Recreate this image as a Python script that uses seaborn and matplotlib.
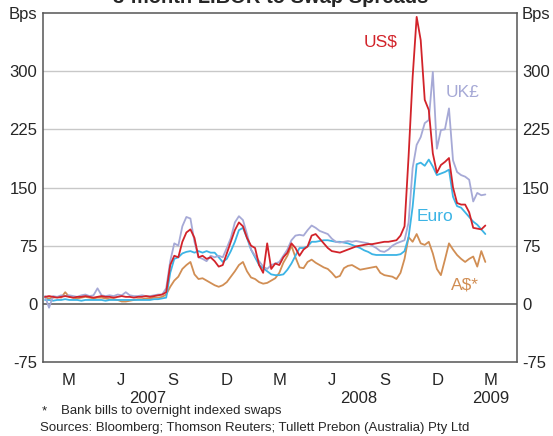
import pandas as pd
import numpy as np
import matplotlib
matplotlib.use("Agg")
import matplotlib.pyplot as plt
import matplotlib.transforms as mtransforms
import seaborn as sns

# weekly readings (Fridays), Jan 2007 - Feb 2009, basis points
us = [9, 10, 9, 8, 9, 10, 9, 8, 9, 9, 10, 9, 8, 9, 10, 9, 9, 8, 9, 10,
      9, 9, 8, 9, 9, 10, 9, 10, 11, 12,
      15, 50, 62, 60, 80, 92, 96, 85, 60, 62, 58, 60, 55, 48, 50, 65, 80, 95, 105, 100,
      85, 75,
      72, 50, 40, 78, 45, 52, 50, 60, 66, 78, 72, 62, 70, 74, 88, 90, 84, 78, 72, 68,
      67, 66, 68, 70, 72, 74, 75, 76, 77, 77, 78, 79, 80, 80, 81, 82, 88,
      100, 190, 292, 370, 340, 263, 250, 194, 169, 179, 183, 188, 150, 130, 128, 128,
      118, 98, 97, 96, 101]
uk = [10, -5, 10, 9, 11, 10, 11, 10, 9, 11, 12, 10, 11, 20, 11, 10, 11, 10, 12, 11,
      15, 11, 10, 10, 11, 10, 10, 11, 12, 12,
      20, 55, 78, 75, 100, 112, 110, 80, 60, 58, 55, 62, 60, 62, 60, 72, 85, 105, 113, 108,
      90, 70,
      62, 55, 48, 45, 50, 52, 54, 62, 70, 82, 88, 89, 88, 95, 101, 98, 94, 92, 90, 84,
      80, 79, 80, 81, 80, 81, 80, 79, 78, 75, 72, 68, 67, 70, 75, 78, 80,
      82, 105, 175, 205, 215, 233, 237, 299, 200, 224, 225, 252, 185, 170, 166, 164,
      160, 132, 143, 140, 141]
euro = [5, 5, 4, 5, 5, 6, 5, 5, 5, 4, 5, 5, 5, 5, 5, 4, 5, 5, 5, 5,
        5, 5, 5, 5, 5, 5, 5, 6, 6, 7,
        8, 40, 58, 60, 65, 67, 68, 66, 68, 66, 68, 66, 66, 60, 54, 58, 68, 80, 95, 98,
        85, 70,
        60, 50, 46, 42, 38, 37, 37, 38, 44, 52, 62, 72, 72, 74, 80, 80, 81, 82, 82, 81,
        80, 80, 79, 78, 76, 74, 72, 69, 67, 64, 63, 63, 63, 63, 63, 63, 64,
        68, 86, 125, 180, 182, 178, 186, 177, 166, 168, 170, 173, 138, 126, 124, 118,
        112, 106, 102, 96, 90]
aud = [8, 7, 8, 9, 8, 15, 9, 8, 7, 8, 9, 8, 7, 8, 8, 7, 6, 6, 5, 3,
       3, 4, 5, 6, 6, 7, 7, 8, 8, 9,
       12, 22, 30, 35, 45, 50, 54, 38, 32, 33, 30, 27, 24, 22, 24, 28, 35, 42, 50, 54,
       42, 34,
       32, 28, 26, 27, 30, 33, 40, 53, 62, 75, 60, 47, 46, 54, 57, 53, 50, 47, 45, 40,
       34, 36, 46, 49, 50, 47, 44, 45, 46, 47, 48, 40, 37, 36, 35, 32, 40,
       58, 86, 80, 90, 78, 76, 80, 65, 45, 37, 57, 78, 70, 63, 58, 54, 58, 61, 48, 68,
       54]

dates = pd.date_range("2007-01-05", periods=len(us), freq="7D")

series_names = ["A$*", "Euro", "UK£", "US$"]
PALETTE = {"US$": "#d2232a", "UK£": "#a6a9d6", "Euro": "#3cb4e5", "A$*": "#d18e54"}

month_letters = ["M", "J", "S", "D", "M", "J", "S", "D", "M"]
years = ["2007", "2008", "2009"]

df = pd.concat([
    pd.DataFrame({"date": dates, "spread": vals, "series": name})
    for name, vals in zip(["US$", "UK£", "Euro", "A$*"], [us, uk, euro, aud])
])

sns.set_style("white")
plt.rcParams["font.family"] = ["Liberation Sans", "DejaVu Sans"]

fig = plt.figure(figsize=(5.53, 4.36), dpi=100)
ax = fig.add_axes([0.0772, 0.1697, 0.8568, 0.8005])

for y in [75, 150, 225, 300]:
    ax.axhline(y, color="#c8c8c8", linewidth=1.0, zorder=0)
ax.axhline(0, color="#555555", linewidth=1.1, zorder=1)

sns.lineplot(data=df, x="date", y="spread", hue="series", hue_order=series_names,
             palette=PALETTE, linewidth=1.3, legend=False, ax=ax, zorder=2)

ax.set_ylim(-75, 375)
ax.set_xlim(pd.Timestamp("2007-01-01"), pd.Timestamp("2009-04-01"))

yt = [-75, 0, 75, 150, 225, 300, 375]
ylabels = ["-75", "0", "75", "150", "225", "300", "Bps"]
ax.set_yticks(yt)
ax.set_yticklabels(ylabels)
ax.tick_params(axis="y", length=0, labelsize=12, pad=4, labelright=True, right=False)

quarters = pd.date_range("2007-01-01", "2009-04-01", freq="QS")
mids = [q + pd.Timedelta(days=45) for q in quarters[:-1]]
ax.set_xticks(quarters)
ax.set_xticklabels([""] * len(quarters))
ax.set_xticks(mids, minor=True)
ax.set_xticklabels(month_letters, minor=True)
ax.tick_params(axis="x", which="major", direction="in", length=5, width=0.8, color="#5a6aa0")
ax.tick_params(axis="x", which="minor", length=0, labelsize=12, pad=8)
ax.set_xlabel("")
ax.set_ylabel("")

for sp in ax.spines.values():
    sp.set_color("#555555")
    sp.set_linewidth(1.1)

# year labels centred on the span of each year
trans = mtransforms.blended_transform_factory(ax.transData, fig.transFigure)
year_spans = [("2007-01-01", "2008-01-01"), ("2008-01-01", "2009-01-01"), ("2009-01-01", "2009-04-01")]
for label, (a, b) in zip(years, year_spans):
    mid = pd.Timestamp(a) + (pd.Timestamp(b) - pd.Timestamp(a)) / 2
    ax.text(mid, 1 - 398 / 436, label, transform=trans, ha="center", va="center", fontsize=12)

# series labels
ax.text(pd.Timestamp("2008-08-09"), 338, "US$", color=PALETTE["US$"], fontsize=12.5, ha="center", va="center")
ax.text(pd.Timestamp("2008-12-29"), 273, "UK£", color=PALETTE["UK£"], fontsize=12.5, ha="center", va="center")
ax.text(pd.Timestamp("2008-11-11"), 113, "Euro", color=PALETTE["Euro"], fontsize=12.5, ha="center", va="center")
ax.text(pd.Timestamp("2009-01-02"), 24, "A$*", color=PALETTE["A$*"], fontsize=12.5, ha="center", va="center")

fig.text(0.49, 1 - 3 / 436, "3-month LIBOR to Swap Spreads", ha="center", va="baseline",
         fontsize=14.5, fontweight="bold")
fig.text(42 / 553, 1 - 411 / 436, "*", ha="left", va="center", fontsize=9.5)
fig.text(61 / 553, 1 - 411 / 436, "Bank bills to overnight indexed swaps", ha="left", va="center", fontsize=9.5)
fig.text(40 / 553, 1 - 428 / 436, "Sources: Bloomberg; Thomson Reuters; Tullett Prebon (Australia) Pty Ltd",
         ha="left", va="center", fontsize=9.5)

fig.savefig("out.png", dpi=100)
